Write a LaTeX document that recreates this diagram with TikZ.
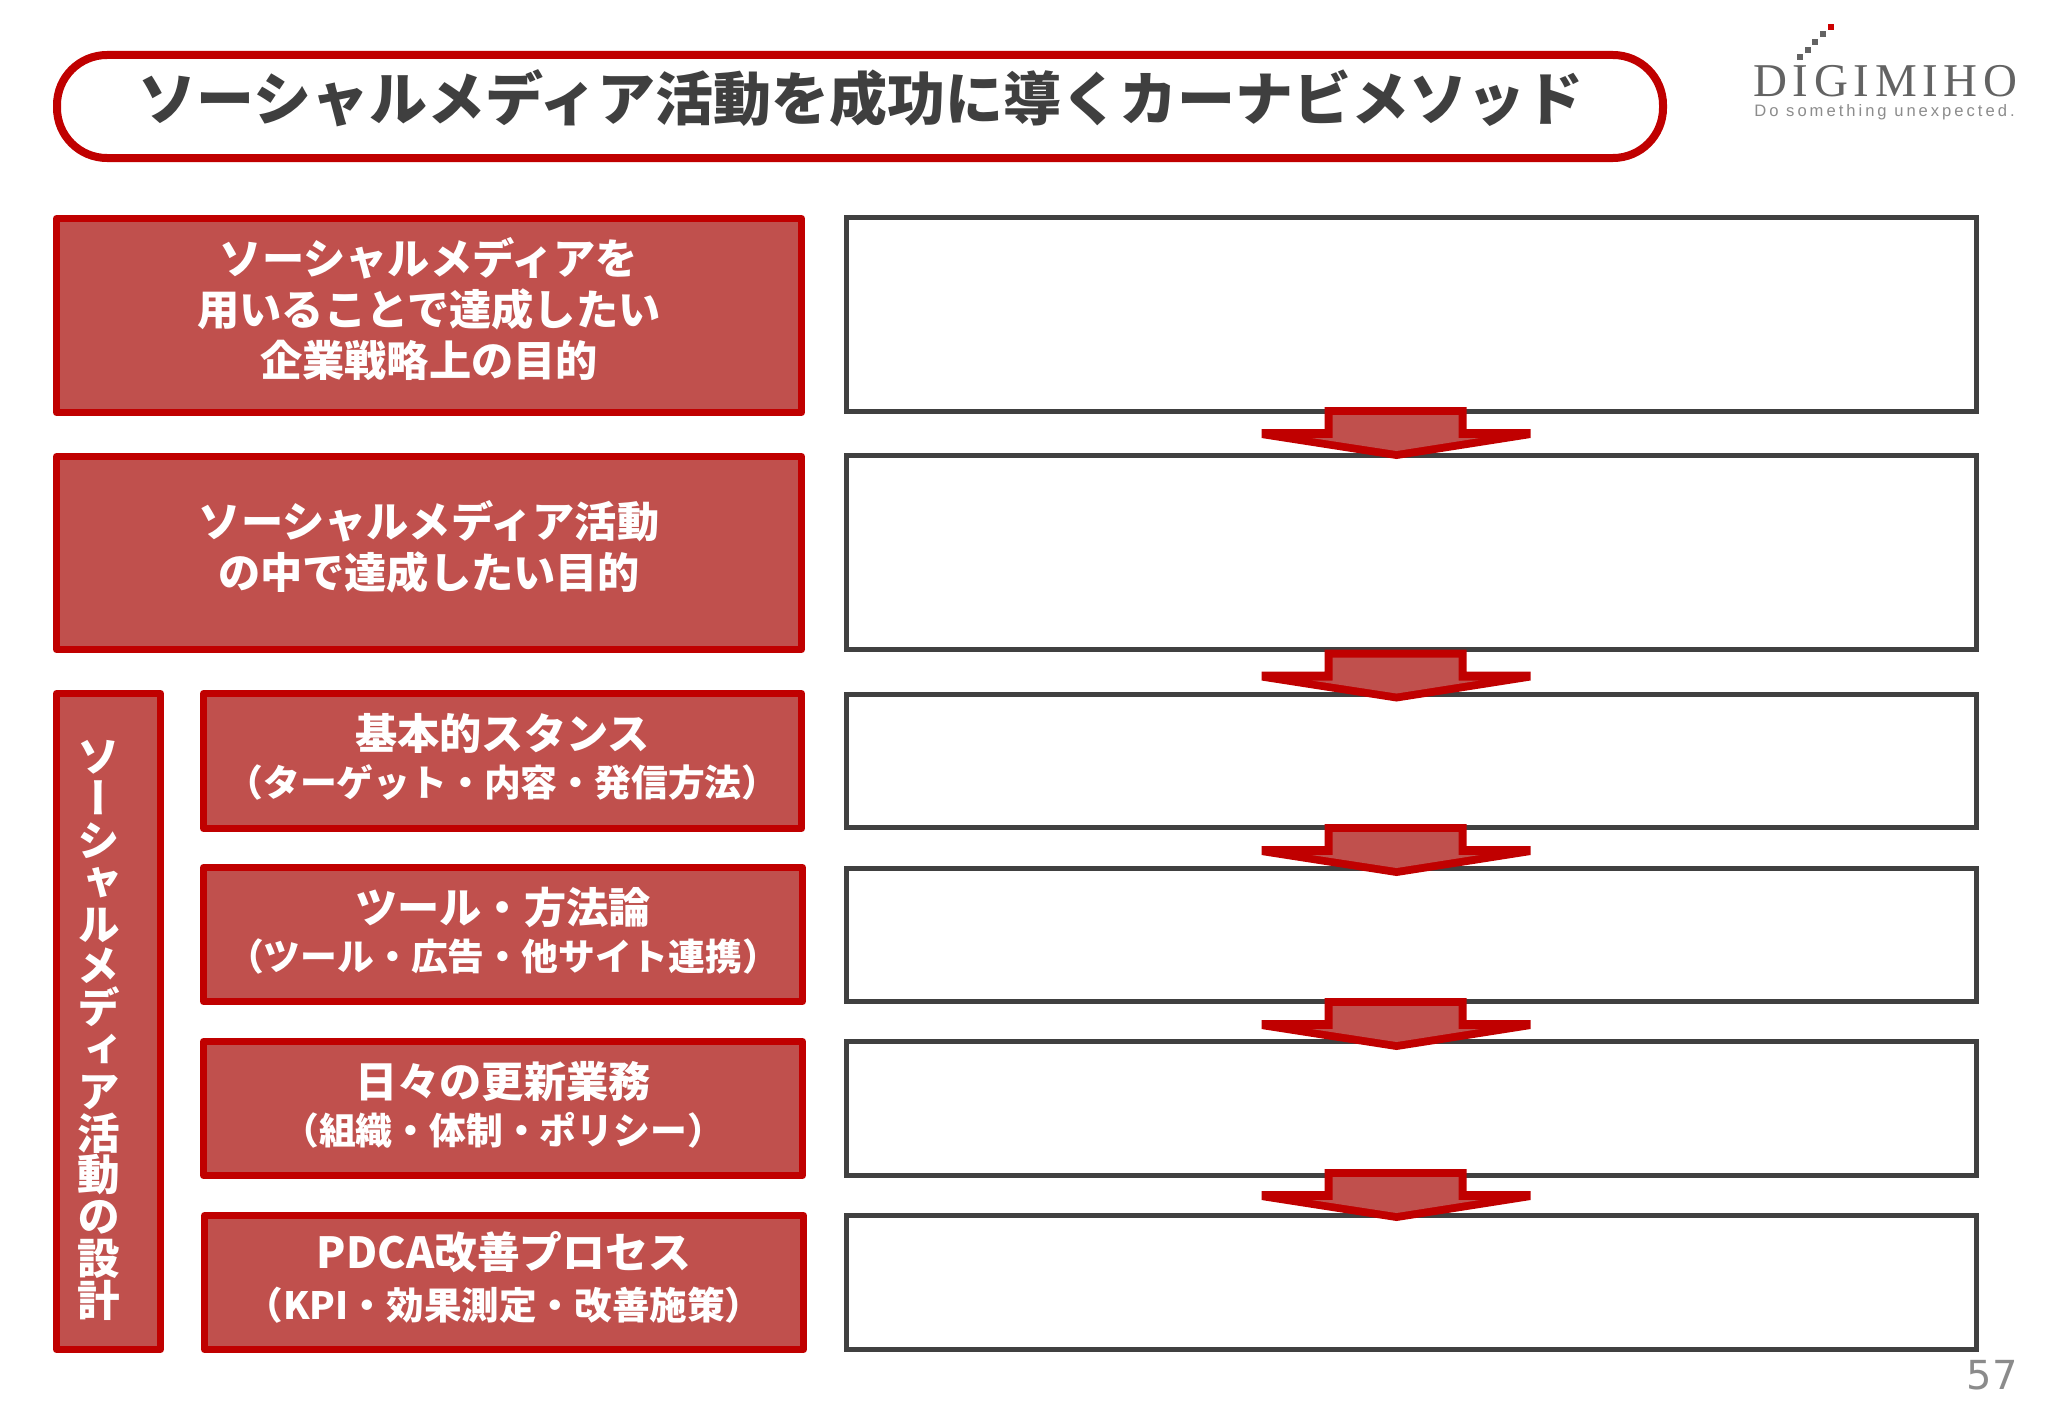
\documentclass[tikz,border=0pt]{standalone}
\usepackage{fontspec}
\usetikzlibrary{calc}
\setmainfont{Noto Sans CJK JP}
\newfontfamily\vjp[RawFeature={+vert}]{Noto Sans CJK JP}
\newfontfamily\logoserif[LetterSpace=12]{Liberation Serif}
\newfontfamily\logosans[LetterSpace=18]{Liberation Sans}
\newfontfamily\pagefont{DejaVu Sans}
\definecolor{redline}{HTML}{C00000}
\definecolor{redfill}{HTML}{C0504D}
\definecolor{darkline}{HTML}{404040}
\definecolor{titletext}{HTML}{3F3F3F}
\definecolor{logogrey}{HTML}{636363}
\definecolor{logolight}{HTML}{8C8C8C}
\definecolor{pagegrey}{HTML}{8B8B8B}
\tikzset{
  redbox/.style={draw=redline,fill=redfill,line width=3.5pt,line join=round,inner sep=0pt,outer sep=0pt},
  whitebox/.style={draw=darkline,fill=white,line width=2.5pt,inner sep=0pt,outer sep=0pt},
  pill/.style={draw=redline,fill=white,line width=4pt,rounded corners=25pt,inner sep=0pt,outer sep=0pt},
  boxtext/.style={text=white,font=\bfseries,align=center,inner sep=0pt},
  logodot/.style={fill=logogrey,minimum size=2.8pt,inner sep=0pt,outer sep=0pt},
}
\newcommand\obox[7]{% name, style, x1,y1,x2,y2, line px
  \node[#2,minimum width={(#5-#3-#7)*0.5pt},minimum height={(#6-#4-#7)*0.5pt}] (#1) at ({(#3+#5)/2},{(#4+#6)/2}) {};}
\newcommand\blockarrow[1]{% top centre coordinate
  \fill[redline,shift={(#1)}] (-72,0) -- (70,0) -- (70,22) -- (134,22) -- (134,31) -- (0,52) -- (-135,31) -- (-135,22) -- (-72,22) -- cycle;
  \fill[redfill,shift={(#1)}] (-64,8) -- (62,8) -- (62,31) -- (83,31) -- (0,44) -- (-85,31) -- (-64,31) -- cycle;}
\begin{document}
\begin{tikzpicture}[x=0.5pt,y=-0.5pt]
\useasboundingbox (0,0) rectangle (2048,1418);
\fill[white] (0,0) rectangle (2048,1418);
% title
\obox{title}{pill}{53}{51}{1667}{162}{8}
\node[text=titletext,font=\bfseries\fontsize{29pt}{34pt}\selectfont,inner sep=0pt] (titletxt) at ([xshift=0.5pt,yshift=4.2pt]title.center) {ソーシャルメディア活動を成功に導くカーナビメソッド};
% logo
\node[logodot] (d1) at (1800,57) {};
\node[logodot] (d2) at (1808,50) {};
\node[logodot] (d3) at (1815,42) {};
\node[logodot] (d4) at (1823,34) {};
\node[logodot,fill=red!80!black] (d5) at (1831,27) {};
\node[text=logogrey,anchor=base west,inner sep=0pt,font=\logoserif\fontsize{23.5pt}{26pt}\selectfont] (logo) at (1753,97) {DIGIMIHO};
\node[text=logolight,anchor=base west,inner sep=0pt,font=\logosans\fontsize{8.3pt}{10pt}\selectfont] (slogan) at (1754,117) {Do something unexpected.};
% left boxes
\obox{l1}{redbox}{53}{215}{805}{416}{7}
\obox{l2}{redbox}{53}{453}{805}{653}{7}
\obox{v}{redbox}{53}{690}{164}{1353}{7}
\obox{s1}{redbox}{200}{690}{805}{832}{7}
\obox{s2}{redbox}{200}{864}{806}{1005}{7}
\obox{s3}{redbox}{200}{1038}{806}{1179}{7}
\obox{s4}{redbox}{201}{1212}{807}{1353}{7}
% texts
\node[boxtext,font=\bfseries\fontsize{21.1pt}{25.5pt}\selectfont] (l1t) at ([yshift=3pt]l1.center) {ソーシャルメディアを\\用いることで達成したい\\企業戦略上の目的};
\node[boxtext,font=\bfseries\fontsize{21.1pt}{25.5pt}\selectfont] (l2t) at ([yshift=3pt]l2.center) {ソーシャルメディア活動\\の中で達成したい目的};
\node[boxtext,font=\bfseries\vjp\fontsize{21.3pt}{20.9pt}\selectfont] (vt) at ([xshift=-5pt,yshift=-4.5pt]v.center) {ソ\\ー\\シ\\ャ\\ル\\メ\\デ\\ィ\\ア\\活\\動\\の\\設\\計};
\node[boxtext] (s1t) at ([yshift=2pt]s1.center) {\fontsize{21.1pt}{23.5pt}\selectfont 基本的スタンス\\[4.5pt]\fontsize{18.4pt}{23.5pt}\selectfont （ターゲット・内容・発信方法）};
\node[boxtext] (s2t) at ([yshift=2pt]s2.center) {\fontsize{21.1pt}{23.5pt}\selectfont ツール・方法論\\[4.5pt]\fontsize{18.4pt}{23.5pt}\selectfont （ツール・広告・他サイト連携）};
\node[boxtext] (s3t) at ([yshift=2pt]s3.center) {\fontsize{21.1pt}{23.5pt}\selectfont 日々の更新業務\\[4.5pt]\fontsize{18.4pt}{23.5pt}\selectfont （組織・体制・ポリシー）};
\node[boxtext] (s4t) at ([yshift=2.5pt]s4.center) {\fontsize{21.4pt}{25.5pt}\selectfont PDCA改善プロセス\\[6pt]\fontsize{18.8pt}{25.5pt}\selectfont （KPI・効果測定・改善施策）};
% right boxes
\obox{r1}{whitebox}{844}{215}{1979}{414}{5}
\obox{r2}{whitebox}{844}{453}{1979}{652}{5}
\obox{r3}{whitebox}{844}{692}{1979}{830}{5}
\obox{r4}{whitebox}{844}{866}{1979}{1004}{5}
\obox{r5}{whitebox}{844}{1039}{1979}{1178}{5}
\obox{r6}{whitebox}{844}{1213}{1979}{1352}{5}
% arrows
\coordinate (a1) at ($(r1.south)+(-15,-4.5)$);
\coordinate (a2) at ($(r2.south)+(-15,0)$);
\coordinate (a3) at ($(r3.south)+(-15,-3.5)$);
\coordinate (a4) at ($(r4.south)+(-15,-3.5)$);
\coordinate (a5) at ($(r5.south)+(-15,-6.5)$);
\blockarrow{a1}\blockarrow{a2}\blockarrow{a3}\blockarrow{a4}\blockarrow{a5}
% page number
\node[text=pagegrey,anchor=base east,inner sep=0pt,font=\pagefont\fontsize{20pt}{24pt}\selectfont] (pg) at (2018,1389) {57};
\end{tikzpicture}
\end{document}
